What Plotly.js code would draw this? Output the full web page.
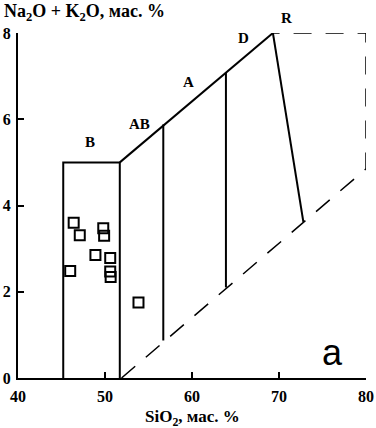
<!DOCTYPE html>
<html><head><meta charset="utf-8">
<script src="https://cdn.plot.ly/plotly-3.0.1.min.js"></script>
<style>html,body{margin:0;padding:0;background:#fff}#c{width:376px;height:428px}</style>
</head><body><div id="c"></div>
<script>
// sample points (SiO2, Na2O+K2O)
const sio2 = [46.4, 47.1, 49.8, 49.9, 48.9, 50.6, 50.6, 50.65, 46.0, 53.85];
const alk  = [3.60, 3.31, 3.47, 3.30, 2.85, 2.78, 2.47, 2.34, 2.48, 1.75];

// solid field boundaries (null separates segments)
const solidX = [45.2, 45.2, 51.7, 51.7, null, 51.7, 69.3, null, 56.7, 56.7, null, 63.9, 63.9, null, 69.3, 72.8];
const solidY = [0,    5.0,  5.0,  0,    null, 5.0,  8.0,  null, 0.87, 5.88, null, 2.1,  7.08, null, 8.0,  3.62];
// dashed boundaries
const dashX = [51.9, 80, 80, 69.3];
const dashY = [0, 4.85, 8, 8];

// field labels
const fieldNames = ['B', 'AB', 'A', 'D', 'R'];
const fieldX = [48.3, 54.0, 59.6, 65.9, 70.9];
const fieldY = [5.48, 5.89, 6.87, 7.89, 8.35];

const xTicks = [40, 50, 60, 70, 80];
const yTicks = [0, 2, 4, 6, 8];
const yMax = 8;

const serif = 'Liberation Serif, Times New Roman, serif';

const traces = [
  {x: solidX, y: solidY, mode: 'lines', line: {color: '#000', width: 2}, hoverinfo: 'skip', cliponaxis: false},
  {x: dashX, y: dashY, mode: 'lines', line: {color: '#000', width: 1.5, dash: '18px,14px'}, hoverinfo: 'skip'},
  {x: sio2, y: alk, mode: 'markers', marker: {symbol: 'square-open', size: 10, color: '#000', line: {width: 2, color: '#000'}}}
];

// plot height in px = 428 - 33 - 50 = 345 -> px per y-unit
const pxPerY = 345 / yMax;
const labelAnns = fieldNames.map((t, i) => {
  const yIn = Math.min(fieldY[i], yMax);
  return {
    text: t, xref: 'x', yref: 'y', x: fieldX[i], y: yIn, yshift: (fieldY[i] - yIn) * pxPerY,
    showarrow: false, xanchor: 'center', yanchor: 'middle',
    font: {family: serif, size: 15, color: '#000', weight: 'bold'}
  };
});

const layout = {
  width: 376, height: 428,
  margin: {l: 18, r: 10, t: 33, b: 50},
  showlegend: false,
  paper_bgcolor: '#fff', plot_bgcolor: '#fff',
  xaxis: {range: [40, 80], tickvals: xTicks, ticktext: xTicks.map(String), showgrid: false, zeroline: false,
          showline: true, linewidth: 2, linecolor: '#000', ticks: 'inside', ticklen: 6, tickwidth: 2, tickcolor: '#000',
          ticklabelstandoff: 3,
          tickfont: {family: serif, size: 16, color: '#000', weight: 'bold'}},
  yaxis: {range: [0, yMax], tickvals: yTicks, ticktext: yTicks.map(String), showgrid: false, zeroline: false,
          showline: true, linewidth: 2, linecolor: '#000', ticks: 'inside', ticklen: 6, tickwidth: 2, tickcolor: '#000',
          ticklabelstandoff: 2,
          tickfont: {family: serif, size: 16, color: '#000', weight: 'bold'}},
  annotations: labelAnns.concat([
    {text: 'Na<sub>2</sub>O + K<sub>2</sub>O, мас. %', xref: 'paper', yref: 'paper', x: -0.045, y: 1.058,
     xanchor: 'left', yanchor: 'middle', showarrow: false, font: {family: serif, size: 18, color: '#000', weight: 'bold'}},
    {text: 'SiO<sub>2</sub>, мас. %', xref: 'paper', yref: 'paper', x: 0.5, y: -0.116,
     xanchor: 'center', yanchor: 'middle', showarrow: false, font: {family: serif, size: 17, color: '#000', weight: 'bold'}},
    {text: 'a', xref: 'x', yref: 'y', x: 76.1, y: 0.6, showarrow: false,
     font: {family: 'Liberation Sans, Arial, sans-serif', size: 36, color: '#000'}}
  ])
};

Plotly.newPlot('c', traces, layout, {staticPlot: true, displayModeBar: false});
</script></body></html>
